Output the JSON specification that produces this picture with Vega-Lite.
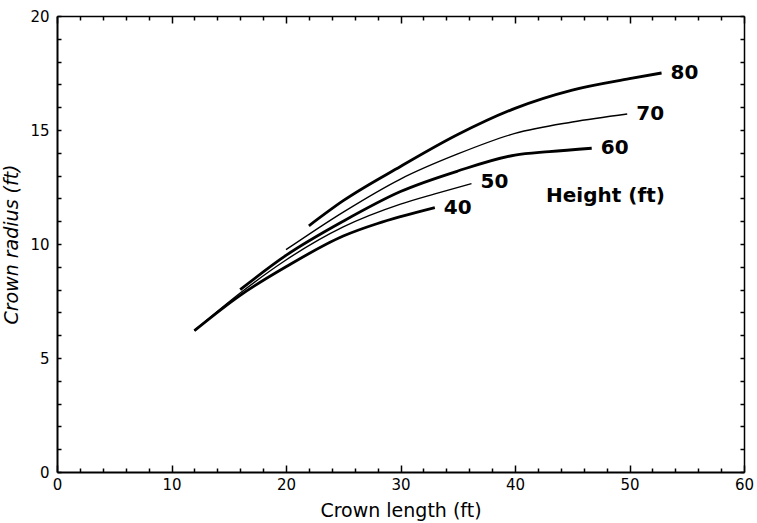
{
  "$schema": "https://vega.github.io/schema/vega-lite/v6.json",
  "width": 687,
  "height": 456,
  "autosize": {"type": "none"},
  "padding": {"left": 57, "top": 16, "right": 13, "bottom": 51},
  "background": "white",
  "config": {
    "view": {"stroke": null},
    "font": "DejaVu Sans",
    "axis": {"domainColor": "black", "tickColor": "black", "labelColor": "black", "titleColor": "black", "grid": false, "labelFont": "DejaVu Sans", "titleFont": "DejaVu Sans", "labelFontSize": 15, "titleFontSize": 19, "titleFontWeight": "normal"}
  },
  "datasets": {
    "curves": [
      {"height": "40", "length": 12, "radius": 6.2},
      {"height": "40", "length": 16, "radius": 7.75},
      {"height": "40", "length": 20, "radius": 9.0},
      {"height": "40", "length": 25, "radius": 10.35},
      {"height": "40", "length": 28, "radius": 10.9},
      {"height": "40", "length": 30, "radius": 11.2},
      {"height": "40", "length": 33, "radius": 11.6},
      {"height": "50", "length": 12, "radius": 6.2},
      {"height": "50", "length": 16, "radius": 7.85},
      {"height": "50", "length": 20, "radius": 9.3},
      {"height": "50", "length": 25, "radius": 10.75},
      {"height": "50", "length": 30, "radius": 11.75},
      {"height": "50", "length": 33, "radius": 12.2},
      {"height": "50", "length": 36.2, "radius": 12.65},
      {"height": "60", "length": 16, "radius": 8.0},
      {"height": "60", "length": 20, "radius": 9.5},
      {"height": "60", "length": 25, "radius": 11.0},
      {"height": "60", "length": 30, "radius": 12.3},
      {"height": "60", "length": 35, "radius": 13.2},
      {"height": "60", "length": 40, "radius": 13.9},
      {"height": "60", "length": 43, "radius": 14.05},
      {"height": "60", "length": 46.7, "radius": 14.2},
      {"height": "70", "length": 20, "radius": 9.75},
      {"height": "70", "length": 25, "radius": 11.4},
      {"height": "70", "length": 30, "radius": 12.85},
      {"height": "70", "length": 35, "radius": 13.95},
      {"height": "70", "length": 40, "radius": 14.85},
      {"height": "70", "length": 45, "radius": 15.35},
      {"height": "70", "length": 49.8, "radius": 15.7},
      {"height": "80", "length": 22, "radius": 10.8},
      {"height": "80", "length": 25, "radius": 11.9},
      {"height": "80", "length": 30, "radius": 13.4},
      {"height": "80", "length": 35, "radius": 14.8},
      {"height": "80", "length": 40, "radius": 15.95},
      {"height": "80", "length": 45, "radius": 16.75},
      {"height": "80", "length": 50, "radius": 17.25},
      {"height": "80", "length": 52.8, "radius": 17.5}
    ],
    "labels": [
      {"height": "40", "length": 33, "radius": 11.6},
      {"height": "50", "length": 36.2, "radius": 12.7},
      {"height": "60", "length": 46.7, "radius": 14.2},
      {"height": "70", "length": 49.8, "radius": 15.7},
      {"height": "80", "length": 52.8, "radius": 17.5}
    ]
  },
  "resolve": {"axis": {"x": "independent", "y": "independent"}},
  "layer": [
    {
      "data": {"name": "curves"},
      "transform": [{"filter": "datum.height === '40' || datum.height === '60' || datum.height === '80'"}],
      "mark": {"type": "line", "color": "black", "interpolate": "monotone", "strokeWidth": 2.8, "strokeCap": "butt"},
      "encoding": {
        "x": {"field": "length", "type": "quantitative", "scale": {"domain": [0, 60], "nice": false},
          "axis": {"orient": "bottom", "title": "Crown length (ft)", "values": [0,2,4,6,8,10,12,14,16,18,20,22,24,26,28,30,32,34,36,38,40,42,44,46,48,50,52,54,56,58,60],
            "labelExpr": "datum.value % 10 === 0 ? datum.label : ''",
            "tickSize": {"condition": {"test": "datum.value % 10 === 0", "value": -7}, "value": -4},
            "tickWidth": 1.5, "domainWidth": 2, "labelPadding": 12, "titlePadding": 6, "labelFlush": false, "labelOverlap": false}},
        "y": {"field": "radius", "type": "quantitative", "scale": {"domain": [0, 20], "nice": false},
          "axis": {"orient": "left", "title": "Crown radius (ft)", "titleFontStyle": "italic", "values": [0,1,2,3,4,5,6,7,8,9,10,11,12,13,14,15,16,17,18,19,20],
            "labelExpr": "datum.value % 5 === 0 ? datum.label : ''",
            "tickSize": -4, "tickWidth": 1.5, "domainWidth": 2, "labelPadding": 12, "titlePadding": 8, "labelFlush": false, "labelOverlap": false}},
        "detail": {"field": "height", "type": "nominal"}
      }
    },
    {
      "data": {"name": "curves"},
      "transform": [{"filter": "datum.height === '50' || datum.height === '70'"}],
      "mark": {"type": "line", "color": "black", "interpolate": "monotone", "strokeWidth": 1.4, "strokeCap": "butt"},
      "encoding": {
        "x": {"field": "length", "type": "quantitative", "axis": null},
        "y": {"field": "radius", "type": "quantitative", "axis": null},
        "detail": {"field": "height", "type": "nominal"}
      }
    },
    {
      "data": {"name": "labels"},
      "mark": {"type": "text", "align": "left", "baseline": "middle", "dx": 9, "fontSize": 20, "fontWeight": "bold", "font": "DejaVu Sans", "color": "black"},
      "encoding": {
        "x": {"field": "length", "type": "quantitative",
          "axis": {"orient": "top", "title": null, "labels": false, "values": [0,2,4,6,8,10,12,14,16,18,20,22,24,26,28,30,32,34,36,38,40,42,44,46,48,50,52,54,56,58,60],
            "tickSize": {"condition": {"test": "datum.value % 10 === 0", "value": -7}, "value": -4}, "tickWidth": 1.5, "domainWidth": 1.5}},
        "y": {"field": "radius", "type": "quantitative",
          "axis": {"orient": "right", "title": null, "labels": false, "values": [0,1,2,3,4,5,6,7,8,9,10,11,12,13,14,15,16,17,18,19,20],
            "tickSize": -4, "tickWidth": 1.5, "domainWidth": 1.5}},
        "text": {"field": "height", "type": "nominal"}
      }
    },
    {
      "data": {"values": [{}]},
      "mark": {"type": "text", "align": "center", "baseline": "middle", "fontSize": 20, "fontWeight": "bold", "font": "DejaVu Sans", "color": "black"},
      "encoding": {
        "x": {"datum": 47.9, "type": "quantitative", "axis": null},
        "y": {"datum": 12.1, "type": "quantitative", "axis": null},
        "text": {"value": "Height (ft)"}
      }
    }
  ]
}
